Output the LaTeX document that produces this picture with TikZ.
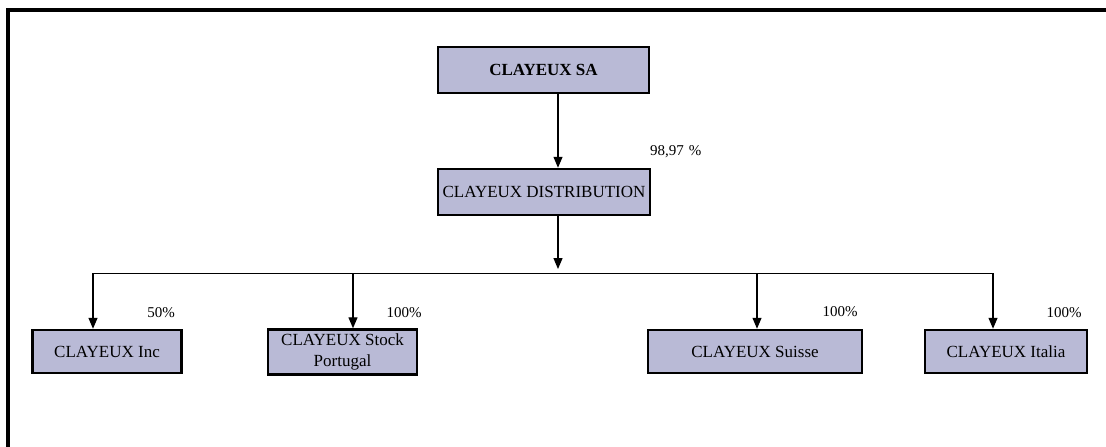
\documentclass[tikz,border=0pt]{standalone}
\usepackage{fontspec}
\setmainfont{Liberation Serif}
\usetikzlibrary{arrows.meta}
\definecolor{boxfill}{RGB}{185,186,214}
\begin{document}
\begin{tikzpicture}[x=1pt,y=-1pt,
 box/.style={draw,line width=2.5pt,fill=boxfill,inner sep=0pt,font=\fontsize{17}{21}\selectfont,align=center},
 pct/.style={font=\fontsize{15}{17}\selectfont,inner sep=0pt},
 arr/.style={line width=1.3pt,-{Triangle[length=11pt,width=9pt]}},
 bar/.style={line width=1pt},
 frame/.style={line width=4pt}]
\useasboundingbox (0,0) rectangle (1106,447);
\coordinate (fb) at (8,447);
\coordinate (fc) at (8,10);
\coordinate (fr) at (1106,10);
\draw[frame] (fb) -- (fc) -- (fr);

\node[box,minimum width=211pt,minimum height=46pt,font=\fontsize{17}{21}\selectfont\bfseries] (sa) at (543.5,70) {CLAYEUX SA};
\node[box,minimum width=212pt,minimum height=46pt] (dist) at (544,192) {CLAYEUX DISTRIBUTION};
\node[box,minimum width=149pt,minimum height=43pt] (inc) at (107,351.5) {CLAYEUX Inc};
\node[box,minimum width=149pt,minimum height=45pt] (stock) at (342.5,352) {CLAYEUX Stock\\Portugal};
\node[box,minimum width=214pt,minimum height=43pt] (suisse) at (755,351.5) {CLAYEUX Suisse};
\node[box,minimum width=162pt,minimum height=43pt] (italia) at (1006,351.5) {CLAYEUX Italia};

\coordinate (c1) at (558,0);
\draw[arr] (sa.south -| c1) -- (dist.north -| c1);

\coordinate (hubtip) at (558,269);
\draw[arr] (dist.south -| c1) -- (hubtip);

\coordinate (b1) at (93,273);
\coordinate (b2) at (353,273);
\coordinate (b3) at (757,273);
\coordinate (b4) at (993,273);
\draw[bar] (b1) -- (b4);
\draw[arr] (b1) -- (inc.north -| b1);
\draw[arr] (b2) -- (stock.north -| b2);
\draw[arr] (b3) -- (suisse.north -| b3);
\draw[arr] (b4) -- (italia.north -| b4);

\node[pct,anchor=west] (p0) at (650,152) {98,97\hspace{5pt}\%};
\node[pct] (p1) at (161,313) {50\%};
\node[pct] (p2) at (404,313) {100\%};
\node[pct] (p3) at (840,312) {100\%};
\node[pct] (p4) at (1064,313) {100\%};
\end{tikzpicture}
\end{document}
